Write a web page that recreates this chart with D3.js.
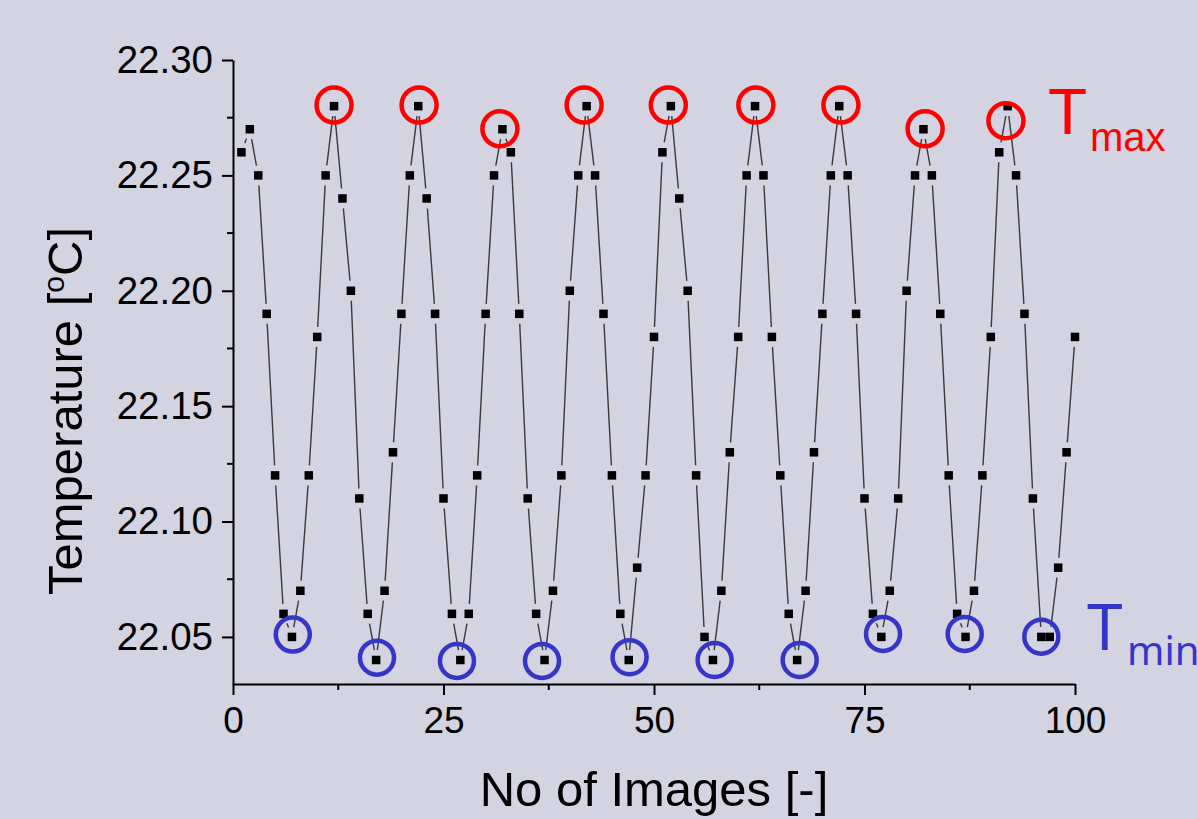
<!DOCTYPE html>
<html lang="en">
<head>
    <meta charset="UTF-8">
    <title>Temperature vs No of Images</title>
    <style>
        body {
            margin: 0;
            background-color: #d3d3e1;
        }
        svg {
            display: block;
        }
        .axis text {
            font-family: "Liberation Sans", Arial, sans-serif;
            font-size: 37px;
            fill: #000;
        }
        .axis.yax text {
            font-size: 38.5px;
        }
        .axis path, .axis line {
            stroke: #000;
            stroke-width: 2;
        }
        .title {
            font-family: "Liberation Sans", Arial, sans-serif;
            font-size: 49px;
            fill: #000;
        }
    </style>
    <script src="https://d3js.org/d3.v7.min.js"></script>
</head>
<body>
    <svg id="chart" width="1198" height="819"></svg>
    <script>
        // x values: image number 1..100
        const images = [
            1, 2, 3, 4, 5, 6, 7, 8, 9, 10,
            11, 12, 13, 14, 15, 16, 17, 18, 19, 20,
            21, 22, 23, 24, 25, 26, 27, 28, 29, 30,
            31, 32, 33, 34, 35, 36, 37, 38, 39, 40,
            41, 42, 43, 44, 45, 46, 47, 48, 49, 50,
            51, 52, 53, 54, 55, 56, 57, 58, 59, 60,
            61, 62, 63, 64, 65, 66, 67, 68, 69, 70,
            71, 72, 73, 74, 75, 76, 77, 78, 79, 80,
            81, 82, 83, 84, 85, 86, 87, 88, 89, 90,
            91, 92, 93, 94, 95, 96, 97, 98, 99, 100
        ];

        // temperature in degC
        const temperature = [
            22.26, 22.27, 22.25, 22.19, 22.12, 22.06, 22.05, 22.07, 22.12, 22.18,
            22.25, 22.28, 22.24, 22.20, 22.11, 22.06, 22.04, 22.07, 22.13, 22.19,
            22.25, 22.28, 22.24, 22.19, 22.11, 22.06, 22.04, 22.06, 22.12, 22.19,
            22.25, 22.27, 22.26, 22.19, 22.11, 22.06, 22.04, 22.07, 22.12, 22.20,
            22.25, 22.28, 22.25, 22.19, 22.12, 22.06, 22.04, 22.08, 22.12, 22.18,
            22.26, 22.28, 22.24, 22.20, 22.12, 22.05, 22.04, 22.07, 22.13, 22.18,
            22.25, 22.28, 22.25, 22.18, 22.12, 22.06, 22.04, 22.07, 22.13, 22.19,
            22.25, 22.28, 22.25, 22.19, 22.11, 22.06, 22.05, 22.07, 22.11, 22.20,
            22.25, 22.27, 22.25, 22.19, 22.12, 22.06, 22.05, 22.07, 22.12, 22.18,
            22.26, 22.28, 22.25, 22.19, 22.11, 22.05, 22.05, 22.08, 22.13, 22.18
        ];

        // hand-placed annotation circles (data coords)
        const maxMarksX = [12.0, 22.1, 31.7, 41.7, 51.7, 62.1, 72.2, 82.2, 91.8];
        const maxMarksY = [22.2805, 22.2805, 22.2702, 22.2805, 22.2805, 22.2805, 22.2805, 22.2702, 22.2737];
        const minMarksX = [7.1, 17.1, 26.6, 36.7, 47.1, 57.2, 67.3, 77.2, 86.9, 96.0];
        const minMarksY = [22.051, 22.041, 22.0396, 22.0396, 22.0412, 22.040, 22.040, 22.0513, 22.0513, 22.0501];

        const xTicks = [0, 25, 50, 75, 100];
        const xMinor = [12.5, 37.5, 62.5, 87.5];
        const yTicks = [22.05, 22.10, 22.15, 22.20, 22.25, 22.30];
        const yMinor = [22.075, 22.125, 22.175, 22.225, 22.275];

        const svg = d3.select("#chart");
        const margin = {left: 233, right: 1075, top: 60, bottom: 684};

        const x = d3.scaleLinear().domain([0, 100]).range([margin.left, margin.right]);
        const y = d3.scaleLinear().domain([22.0296, 22.30]).range([margin.bottom, margin.top]);

        const points = images.map((d, i) => ({x: d, t: temperature[i]}));

        // axes with major + minor ticks
        const gx = svg.append("g").attr("class", "axis")
            .attr("transform", `translate(0,${margin.bottom})`);
        gx.call(d3.axisBottom(x).tickValues(xTicks).tickSize(11).tickPadding(12).tickSizeOuter(0)
            .tickFormat(d3.format("d")));
        gx.append("g").selectAll("line").data(xMinor).join("line")
            .attr("x1", d => x(d)).attr("x2", d => x(d))
            .attr("y1", 0).attr("y2", 6)
            .attr("stroke", "#000").attr("stroke-width", 2);
        gx.selectAll(".tick text").attr("dy", "0.71em");

        const gy = svg.append("g").attr("class", "axis yax")
            .attr("transform", `translate(${margin.left},0)`);
        gy.call(d3.axisLeft(y).tickValues(yTicks).tickSize(11).tickPadding(9).tickSizeOuter(0)
            .tickFormat(d3.format(".2f")));
        gy.append("g").selectAll("line").data(yMinor).join("line")
            .attr("y1", d => y(d)).attr("y2", d => y(d))
            .attr("x1", 0).attr("x2", -6)
            .attr("stroke", "#000").attr("stroke-width", 2);

        // connecting line, broken near each marker like the original plot
        const gap = 10;
        const segs = d3.pairs(points).map(([a, b]) => {
            const x1 = x(a.x), y1 = y(a.t), x2 = x(b.x), y2 = y(b.t);
            const len = Math.hypot(x2 - x1, y2 - y1);
            return {x1, y1, x2, y2, len};
        }).filter(s => s.len > 2 * gap + 1);

        svg.append("g").selectAll("line").data(segs).join("line")
            .attr("x1", s => s.x1 + (s.x2 - s.x1) * gap / s.len)
            .attr("y1", s => s.y1 + (s.y2 - s.y1) * gap / s.len)
            .attr("x2", s => s.x2 - (s.x2 - s.x1) * gap / s.len)
            .attr("y2", s => s.y2 - (s.y2 - s.y1) * gap / s.len)
            .attr("stroke", "#3a3a3a")
            .attr("stroke-width", 1.4);

        // square markers
        const sq = 8.5;
        svg.append("g").selectAll("rect").data(points).join("rect")
            .attr("x", d => x(d.x) - sq / 2)
            .attr("y", d => y(d.t) - sq / 2)
            .attr("width", sq).attr("height", sq)
            .attr("fill", "#000");

        // Tmax / Tmin circles
        svg.append("g").selectAll("circle").data(maxMarksX).join("circle")
            .attr("cx", d => x(d))
            .attr("cy", (d, i) => y(maxMarksY[i]))
            .attr("r", 17.5)
            .attr("fill", "none")
            .attr("stroke", "#ff0000")
            .attr("stroke-width", 4.5);

        svg.append("g").selectAll("circle").data(minMarksX).join("circle")
            .attr("cx", d => x(d))
            .attr("cy", (d, i) => y(minMarksY[i]))
            .attr("r", 17)
            .attr("fill", "none")
            .attr("stroke", "#3535c8")
            .attr("stroke-width", 4.5);

        // Tmax / Tmin labels
        const tmax = svg.append("text")
            .attr("font-family", "'Liberation Sans', Arial, sans-serif")
            .attr("fill", "#ff0000");
        tmax.append("tspan").attr("x", 1048).attr("y", 134).attr("font-size", 64).text("T");
        tmax.append("tspan").attr("x", 1090).attr("y", 151).attr("font-size", 40).text("max");

        const tmin = svg.append("text")
            .attr("font-family", "'Noto Sans', 'Open Sans', sans-serif")
            .attr("fill", "#3535c8");
        tmin.append("tspan").attr("x", 1087).attr("y", 650).attr("font-size", 64).text("T");
        tmin.append("tspan").attr("x", 1127).attr("y", 665).attr("font-size", 40).text("min");

        // axis titles
        svg.append("text").attr("class", "title")
            .attr("x", (margin.left + margin.right) / 2)
            .attr("y", 806)
            .attr("text-anchor", "middle")
            .text("No of Images [-]");

        const yt = svg.append("text").attr("class", "title")
            .attr("transform", "translate(82,411) rotate(-90)")
            .attr("text-anchor", "middle");
        yt.append("tspan").text("Temperature [");
        yt.append("tspan").attr("font-size", 30).attr("dy", -18).text("o");
        yt.append("tspan").attr("dy", 18).text("C]");
    </script>
</body>
</html>
